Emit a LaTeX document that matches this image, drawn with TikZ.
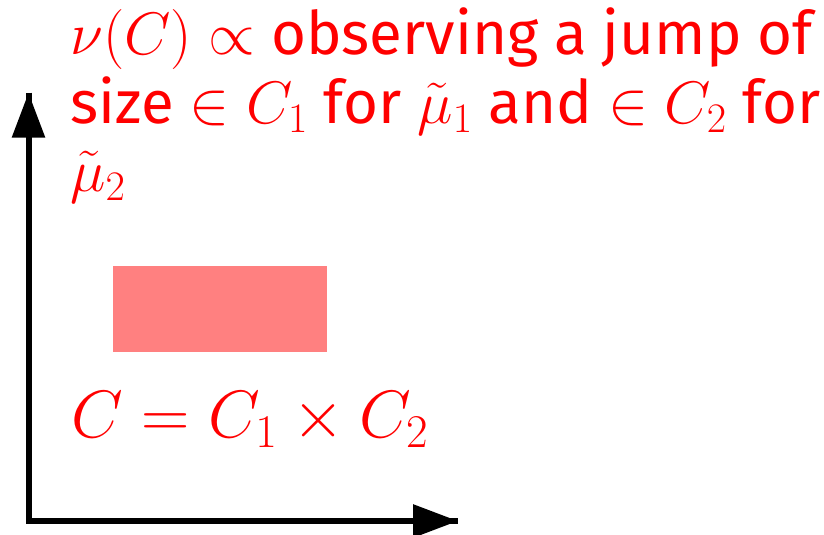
\documentclass[tikz,border=0pt]{standalone}
\usepackage{fix-cm}
\usepackage[no-math]{fontspec}
\setsansfont{Fira Sans}
\usetikzlibrary{arrows.meta}
\definecolor{boxred}{HTML}{FF8080}
\tikzset{
  axis/.style={line width=6pt, -{Triangle[length=45pt,width=32pt]}},
  lbl/.style={text=red, font=\sffamily\fontsize{60}{64}\selectfont, inner sep=0pt, anchor=base west, align=left},
  formula/.style={text=red, font=\fontsize{67}{70}\selectfont, inner sep=0pt, anchor=base west}
}
\begin{document}
\begin{tikzpicture}[x=1pt,y=-1pt]
\useasboundingbox (0,0) rectangle (824,535);
\coordinate (o) at (28.5,521);
\coordinate (ytip) at (28.5,92.7);
\coordinate (xtip) at (458,521);
\draw[line width=6pt] (ytip) -- (o) -- (xtip);
\draw[axis] (o) -- (ytip);
\draw[axis] (o) -- (xtip);
\fill[boxred] (112.7,266) rectangle (327,351.7);
\node[lbl] (l1) at (70,55) {$\nu(C)\propto$ observing a jump of};
\node[lbl] (l2) at (70,123) {size $\in C_1$ for $\tilde\mu_1$ and $\in C_2$ for};
\node[lbl] (l3) at (70,191) {$\tilde\mu_2$};
\node[formula] (f) at (71,437) {$C = C_1\times C_2$};
\end{tikzpicture}
\end{document}
